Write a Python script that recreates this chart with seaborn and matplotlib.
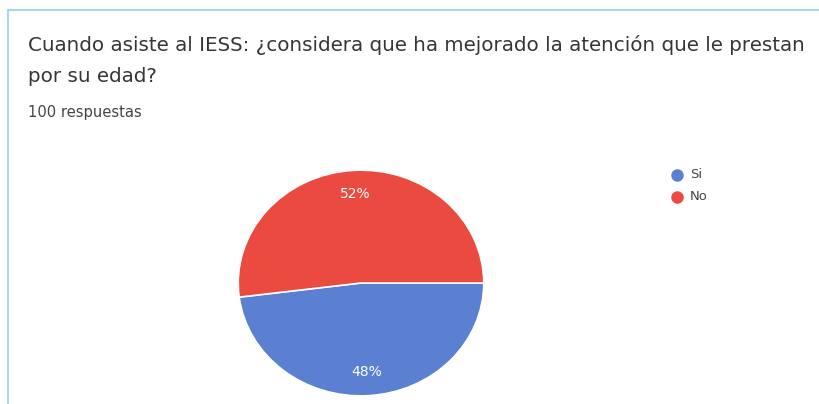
import matplotlib.pyplot as plt
import seaborn as sns
from matplotlib.patches import Rectangle

# Survey answers
labels = ['Si', 'No']
shares = [48, 52]
colors = ['#5b80d2', '#eb4a40']

title_lines = ['Cuando asiste al IESS: ¿considera que ha mejorado la atención que le prestan',
               'por su edad?']
subtitle = '100 respuestas'

sns.set_style("white")
plt.rcParams['font.family'] = ['DejaVu Sans']

fig = plt.figure(figsize=(8.2, 4.04), dpi=100)
W, H = 820, 404

# card border (light blue)
fig.patches.append(Rectangle((8 / W, -0.1), 1.0, (404 - 10) / H + 0.1, transform=fig.transFigure,
                             fill=False, edgecolor='#a9d8ec', linewidth=1.5))

for i, line in enumerate(title_lines):
    fig.text(28 / W, 1 - (45 + 31 * i) / H, line, fontsize=14.3, color='#363636', va='center')
fig.text(28 / W, 1 - 112 / H, subtitle, fontsize=10.6, color='#444444', va='center')

# pie axes
cx, cy, rx, ry = 361, 283, 124, 114
ax = fig.add_axes([(cx - rx) / W, (H - cy - ry) / H, 2 * rx / W, 2 * ry / H])
wedges, _, autotexts = ax.pie(shares, colors=colors, startangle=0, counterclock=False,
                              autopct='%d%%', pctdistance=0.79,
                              wedgeprops=dict(edgecolor='white', linewidth=1.2),
                              textprops=dict(color='white', fontsize=10))
ax.set_aspect('auto')
ax.set_xlim(-1.01, 1.01)
ax.set_ylim(-1.01, 1.01)
ax.axis('off')

# legend
for i, (lab, col) in enumerate(zip(labels, colors)):
    y = 1 - (175 + 22 * i) / H
    fig.add_artist(plt.Line2D([677 / W], [y], marker='o', markersize=8, color=col,
                              transform=fig.transFigure))
    fig.text(690 / W, y, lab, fontsize=9.5, color='#444444', va='center')

fig.savefig('out.png', dpi=100)
